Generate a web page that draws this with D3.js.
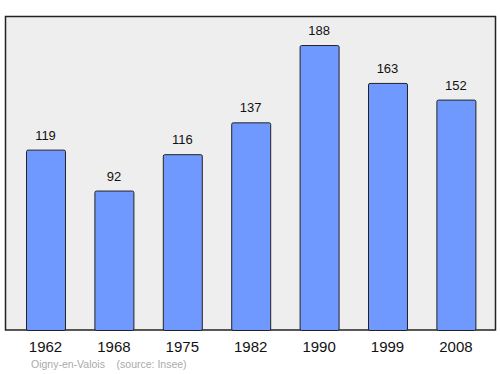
<!DOCTYPE html>
<html>
<head>
<meta charset="utf-8">
<script src="https://cdn.jsdelivr.net/npm/d3@7"></script>
<style>
  body { margin: 0; background: white; }
  svg { font-family: "Liberation Sans", Arial, sans-serif; }
</style>
</head>
<body>
<div id="container"></div>
<script>
/* CONSTANTS */
const width = 500,
  height = 374;

/* DATA */
const years = ["1962", "1968", "1975", "1982", "1990", "1999", "2008"];
const population = [119, 92, 116, 137, 188, 163, 152];
const place = "Oigny-en-Valois";
const source = "(source: Insee)";

const data = years.map((y, i) => ({ year: y, value: population[i] }));

const svg = d3.select("#container")
  .append("svg")
  .attr("width", width)
  .attr("height", height);

/* SCALES */
const xScale = d3.scaleBand()
  .domain(years)
  .range([11.3, 490.1])
  .paddingInner(0.43)
  .paddingOuter(0.215);

const yScale = d3.scaleLinear()
  .domain([0, 206.5])
  .range([330, 17]);

// frame
svg.append("rect")
  .attr("x", 5.5)
  .attr("y", 16.5)
  .attr("width", 490)
  .attr("height", 313.5)
  .attr("fill", "#eeeeee")
  .attr("stroke", "#222")
  .attr("stroke-width", 1.5);

// bars
svg.selectAll(".bar")
  .data(data)
  .join("rect")
  .attr("class", "bar")
  .attr("x", d => xScale(d.year) + 0.5)
  .attr("y", d => yScale(d.value) + 0.5)
  .attr("width", xScale.bandwidth())
  .attr("height", d => yScale(0) - yScale(d.value))
  .attr("rx", 1.5)
  .attr("fill", "#7099ff")
  .attr("stroke", "#222")
  .attr("stroke-width", 1);

// value labels
svg.selectAll(".val")
  .data(data)
  .join("text")
  .attr("class", "val")
  .attr("x", d => xScale(d.year) + xScale.bandwidth() / 2)
  .attr("y", d => yScale(d.value) - 10)
  .attr("text-anchor", "middle")
  .style("font-size", "13px")
  .attr("fill", "#111")
  .text(d => d.value);

// x axis labels
const xAxis = svg.append("g")
  .attr("transform", "translate(0, 330)")
  .call(d3.axisBottom(xScale).tickSize(0).tickPadding(11));
xAxis.select(".domain").remove();
xAxis.selectAll("text")
  .style("font-size", "15px")
  .style("font-family", "Liberation Sans, Arial, sans-serif")
  .attr("fill", "#111");

// footer
svg.append("text")
  .attr("x", 31)
  .attr("y", 368)
  .style("font-size", "10.5px")
  .attr("fill", "#aaaaaa")
  .text(place + "    " + source)
  .attr("xml:space", "preserve")
  .style("white-space", "pre");
</script>
</body>
</html>
